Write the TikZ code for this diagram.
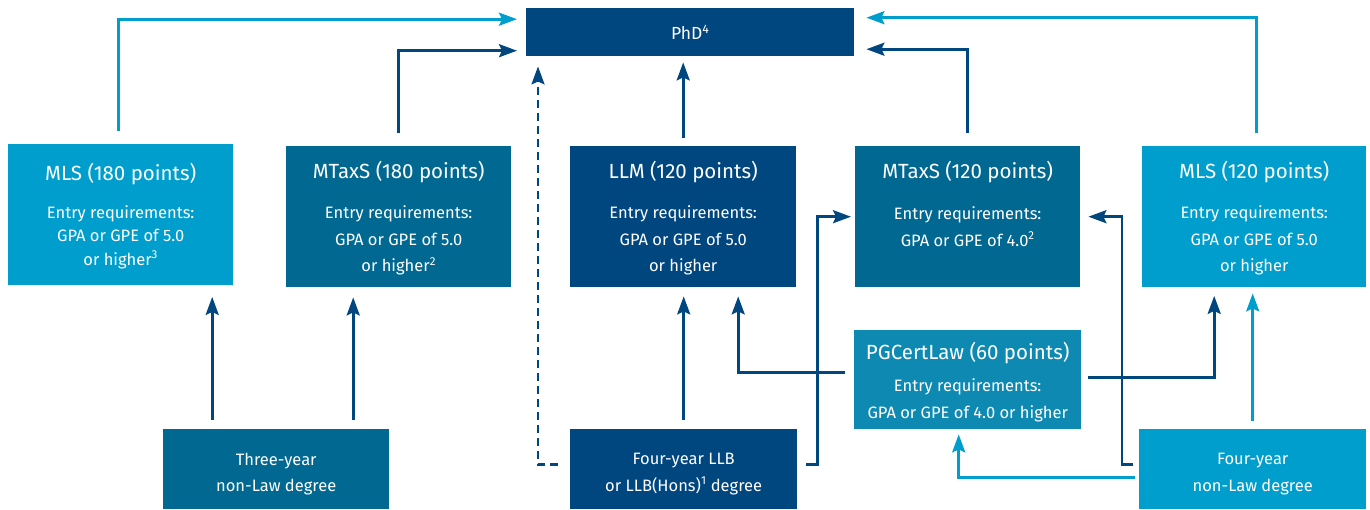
\documentclass[tikz,border=0pt]{standalone}
\usepackage{fontspec}
\setmainfont{Fira Sans}
\usetikzlibrary{arrows.meta}
\definecolor{navy}{HTML}{00467F}
\definecolor{teal}{HTML}{006891}
\definecolor{lightb}{HTML}{009ECC}
\definecolor{pgc}{HTML}{0E8AB2}
\begin{document}
\begin{tikzpicture}[x=1pt,y=-1pt,
  box/.style={rectangle,inner sep=0pt,draw=none,anchor=north west},
  txt/.style={text=white,align=center,inner sep=0pt},
  ttl/.style={txt,font=\fontsize{20.5}{24}\selectfont},
  bdy/.style={txt,font=\fontsize{16.5}{26.5}\selectfont},
  bdys/.style={txt,font=\fontsize{16.5}{23.5}\selectfont},
  phdt/.style={txt,font=\fontsize{17.5}{20}\selectfont},
  con/.style={line width=2.7pt,-{Stealth[length=18pt,width=13pt,inset=3pt]}},
  dk/.style={con,draw=navy},
  lt/.style={con,draw=lightb},
  dsh/.style={dash pattern=on 8pt off 5pt}]
\useasboundingbox (0,0) rectangle (1370,509);
% boxes
\node[box,fill=navy,minimum width=328pt,minimum height=48pt] (phd) at (526,8) {};
\node[box,fill=lightb,minimum width=225pt,minimum height=141pt] (mls180) at (8,144) {};
\node[box,fill=teal,minimum width=225pt,minimum height=141pt] (mtaxs180) at (286,146) {};
\node[box,fill=navy,minimum width=226pt,minimum height=141pt] (llm) at (570,146) {};
\node[box,fill=teal,minimum width=225pt,minimum height=141pt] (mtaxs120) at (855,146) {};
\node[box,fill=lightb,minimum width=224pt,minimum height=141pt] (mls120) at (1142,146) {};
\node[box,fill=pgc,minimum width=227pt,minimum height=99pt] (pgcert) at (854,330) {};
\node[box,fill=teal,minimum width=226pt,minimum height=80pt] (three) at (163,429) {};
\node[box,fill=navy,minimum width=227pt,minimum height=80pt] (llb) at (570,429) {};
\node[box,fill=lightb,minimum width=227pt,minimum height=80pt] (nonlaw) at (1139,429) {};
% texts
\node[phdt] (tphd) at (phd.north |- 0,32.5) {PhD\textsuperscript{4}};
\node[ttl] (t1) at (mls180.north |- 0,174) {MLS (180 points)};
\node[bdys] (b1) at (mls180.north |- 0,237) {Entry requirements:\\GPA or GPE of 5.0\\or higher\textsuperscript{3}};
\node[ttl] (t2) at (mtaxs180.north |- 0,172.5) {MTaxS (180 points)};
\node[bdy] (b2) at (mtaxs180.north |- 0,240.5) {Entry requirements:\\GPA or GPE of 5.0\\or higher\textsuperscript{2}};
\node[ttl] (t3) at (llm.north |- 0,172.5) {LLM (120 points)};
\node[bdy] (b3) at (llm.north |- 0,240.5) {Entry requirements:\\GPA or GPE of 5.0\\or higher};
\node[ttl] (t4) at (mtaxs120.north |- 0,172.5) {MTaxS (120 points)};
\node[bdy] (b4) at (mtaxs120.north |- 0,226.5) {Entry requirements:\\GPA or GPE of 4.0\textsuperscript{2}};
\node[ttl] (t5) at (mls120.north |- 0,172.5) {MLS (120 points)};
\node[bdy] (b5) at (mls120.north |- 0,240.5) {Entry requirements:\\GPA or GPE of 5.0\\or higher};
\node[ttl] (t6) at (pgcert.north |- 0,353) {PGCertLaw (60 points)};
\node[bdy] (b6) at (pgcert.north |- 0,400.5) {Entry requirements:\\GPA or GPE of 4.0 or higher};
\node[bdy] (b7) at (three.north |- 0,474) {Three-year\\non-Law degree};
\node[bdy] (b8) at (llb.north |- 0,474) {Four-year LLB\\or LLB(Hons)\textsuperscript{1} degree};
\node[bdy] (b9) at (nonlaw.north |- 0,474) {Four-year\\non-Law degree};
% connectors
\draw[lt] ([xshift=-2.5pt,yshift=13pt]mls180.north) |- ([xshift=-9pt,yshift=13pt]phd.west);
\draw[dk] ([yshift=13.5pt]mtaxs180.north) |- ([xshift=-9pt,yshift=-18.5pt]phd.west);
\draw[dk,dsh] ([xshift=-12pt,yshift=4.5pt]llb.west) -| ([xshift=12pt,yshift=-10pt]phd.south west);
\draw[dk] ([yshift=8pt]llm.north) -- ([yshift=-6pt]llm.north |- phd.south);
\draw[dk] ([yshift=13.5pt]mtaxs120.north) |- ([xshift=12pt,yshift=-17pt]phd.east);
\draw[lt] ([xshift=2pt,yshift=13.5pt]mls120.north) |- ([xshift=12pt,yshift=14.5pt]phd.east);
\draw[dk] ([xshift=-64pt,yshift=9pt]three.north) -- ([xshift=-64pt,yshift=-11.5pt]three.north |- mls180.south);
\draw[dk] ([xshift=77pt,yshift=9pt]three.north) -- ([xshift=77pt,yshift=-10pt]three.north |- mtaxs180.south);
\draw[dk] ([yshift=9pt]llb.north) -- ([yshift=-9pt]llb.north |- llm.south);
\draw[dk] ([xshift=9pt,yshift=4.5pt]llb.east) -- ++(11pt,0pt) |- ([xshift=-4pt]mtaxs120.west);
\draw[dk] ([xshift=-9pt,yshift=7.5pt]pgcert.west) -| ([xshift=55pt,yshift=-9pt]llm.south);
\draw[dk] ([xshift=7pt,yshift=2pt]pgcert.east) -| ([xshift=-40pt,yshift=-8.5pt]mls120.south);
\draw[dk] ([xshift=-6pt,yshift=4.5pt]nonlaw.west) -- ++(-11pt,0pt) |- ([xshift=8pt]mtaxs120.east);
\draw[lt] ([xshift=-4pt,yshift=-8pt]nonlaw.west) -| ([xshift=-9pt,yshift=-5pt]pgcert.south);
\draw[lt] ([yshift=8pt]nonlaw.north) -- ([yshift=-6pt]nonlaw.north |- mls120.south);
\end{tikzpicture}
\end{document}
